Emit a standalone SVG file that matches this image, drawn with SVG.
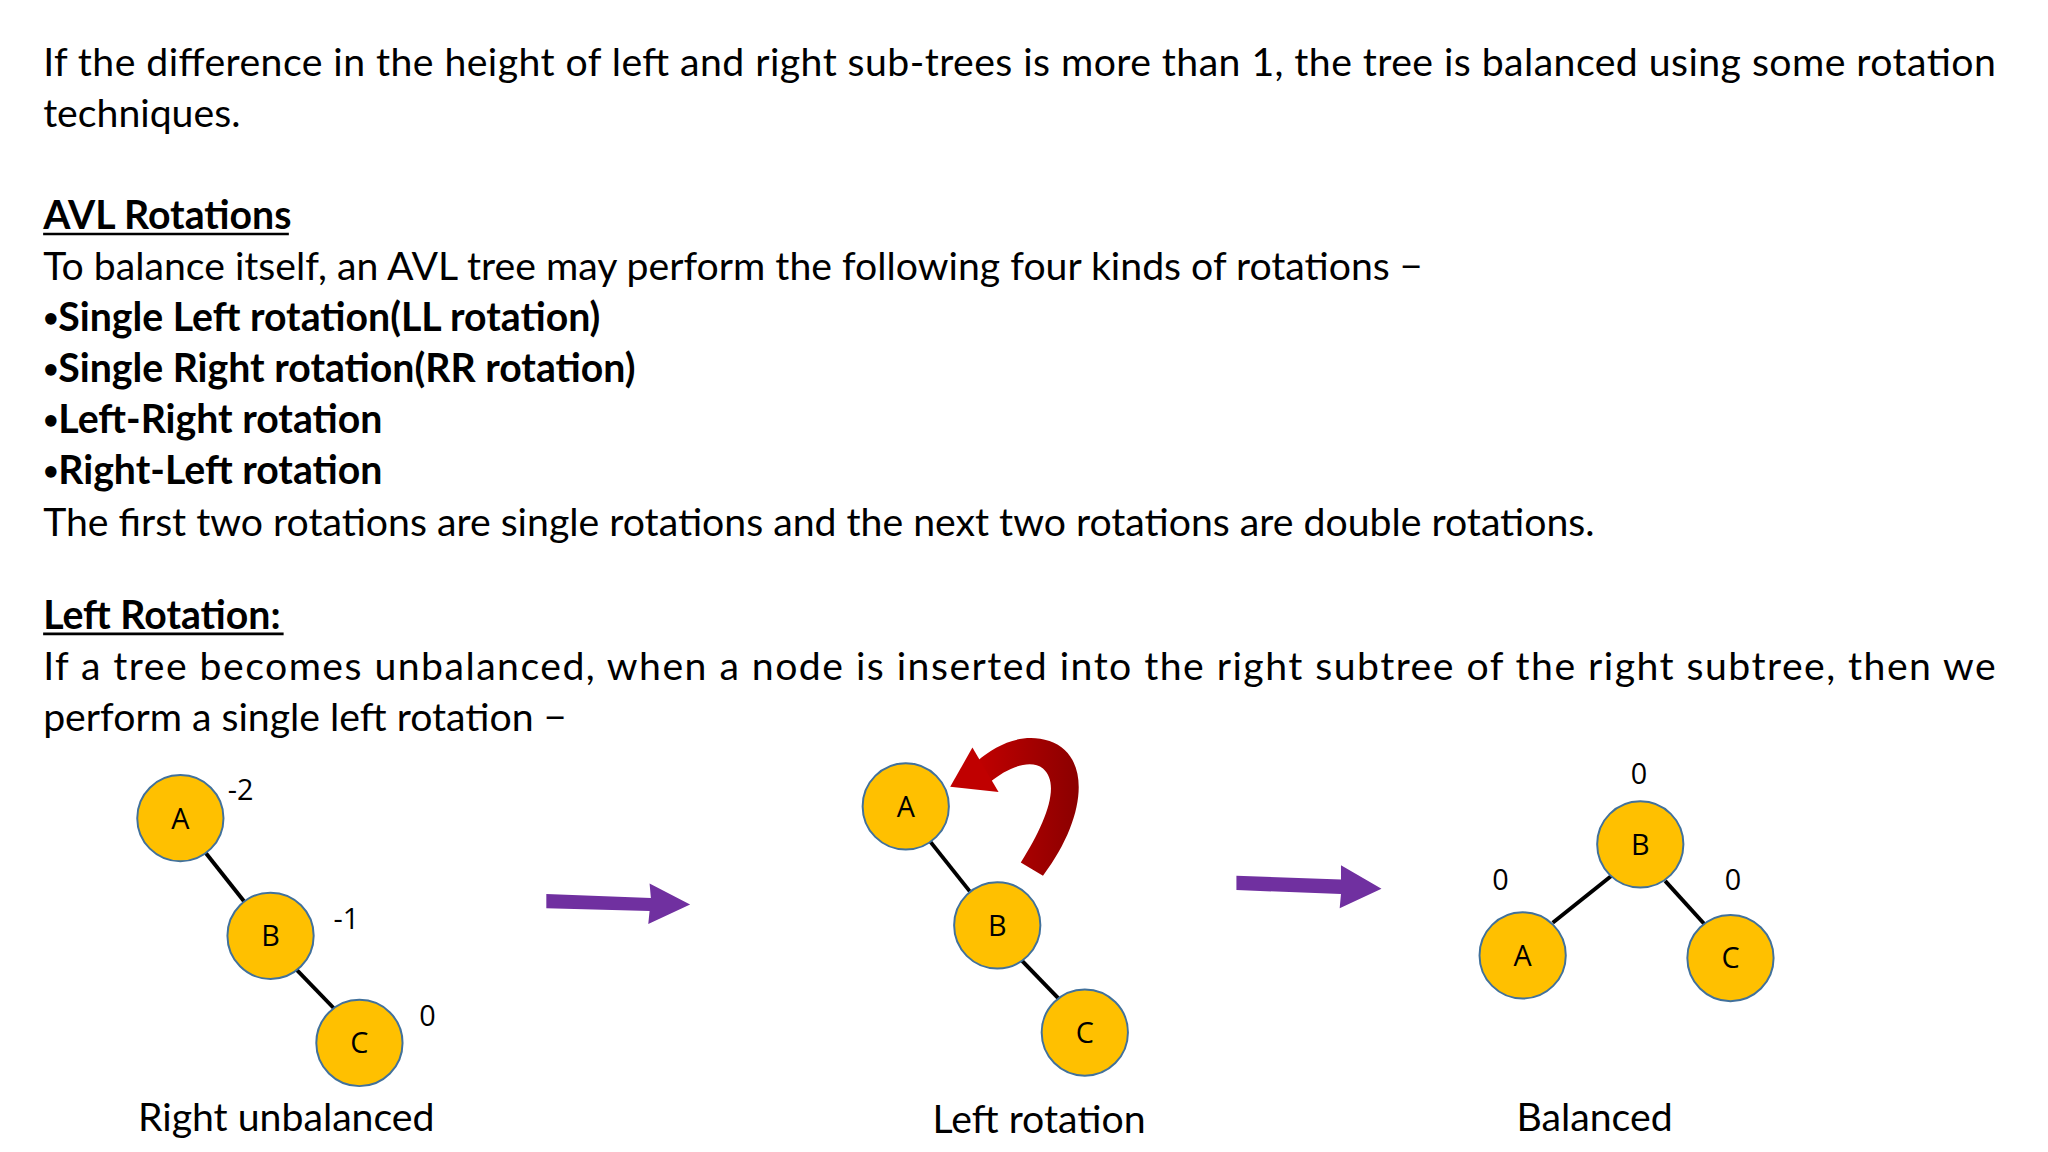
<svg xmlns="http://www.w3.org/2000/svg" width="2048" height="1152" viewBox="0 0 2048 1152">
<defs>
<style>
.t{font-family:Lato,"Open Sans",sans-serif;font-size:30px;fill:#000}
.b{font-weight:bold}
.n{fill:#FFC000;stroke:#41719C;stroke-width:1.5}
.nl{font-family:"Open Sans",sans-serif;font-size:22px;text-anchor:middle;fill:#000}
.e{stroke:#000;stroke-width:3}
.ul{stroke:#000;stroke-width:2}
</style>
<linearGradient id="rg" x1="0" y1="0" x2="1" y2="0"><stop offset="0" stop-color="#C00000"/><stop offset="1" stop-color="#8B0000"/></linearGradient>
</defs>
<rect width="2048" height="1152" fill="#fff"/>
<g transform="scale(1.307)">
<g id="text">
<text class="t" x="33" y="58" textLength="1494" lengthAdjust="spacing">If the difference in the height of left and right sub-trees is more than 1, the tree is balanced using some rotation</text>
<text class="t" x="33" y="97">techniques.</text>
<text class="t b" x="33" y="175">AVL Rotations</text>
<line class="ul" x1="33" y1="179" x2="221" y2="179"/>
<text class="t" x="33" y="214">To balance itself, an AVL tree may perform the following four kinds of rotations −</text>
<text class="t b" x="33" y="253"><tspan font-size="20" dy="-3">•</tspan><tspan dy="3">Single Left rotation(LL rotation)</tspan></text>
<text class="t b" x="33" y="292"><tspan font-size="20" dy="-3">•</tspan><tspan dy="3">Single Right rotation(RR rotation)</tspan></text>
<text class="t b" x="33" y="331"><tspan font-size="20" dy="-3">•</tspan><tspan dy="3">Left-Right rotation</tspan></text>
<text class="t b" x="33" y="370"><tspan font-size="20" dy="-3">•</tspan><tspan dy="3">Right-Left rotation</tspan></text>
<text class="t" x="33" y="410">The first two rotations are single rotations and the next two rotations are double rotations.</text>
<text class="t b" x="33" y="481">Left Rotation:</text>
<line class="ul" x1="33" y1="485" x2="217" y2="485"/>
<text class="t" x="33" y="520" textLength="1494" lengthAdjust="spacing">If a tree becomes unbalanced, when a node is inserted into the right subtree of the right subtree, then we</text>
<text class="t" x="33" y="559">perform a single left rotation −</text>
</g>
<g id="connectors">
<line class="e" x1="157" y1="652" x2="187" y2="690"/>
<line class="e" x1="225" y1="740" x2="256" y2="772"/>
<line class="e" x1="711" y1="643" x2="742" y2="682"/>
<line class="e" x1="780" y1="733" x2="810" y2="764"/>
<line class="e" x1="1233" y1="670" x2="1188" y2="706"/>
<line class="e" x1="1274" y1="674" x2="1304" y2="707"/>
<path d="M418,684 L498,687 L497,676 L528,692 L496,707 L497,697 L418,695 Z" fill="#7030A0"/>
<path d="M946,670 L1026,673 L1026,662 L1057,680 L1025,695 L1026,684 L946,681 Z" fill="#7030A0"/>
<path d="M798,670 C832,625 835,578 803,567 C782,560 762,570 748,582 L758,598 C770,588 788,580 798,588 C812,600 800,630 781,660 Z" fill="url(#rg)"/>
<path d="M727,602 L744,572 L764,606 Z" fill="#C00000"/>
</g>
<g id="t1A"><circle class="n" cx="138" cy="626" r="33"/><text class="nl" x="138" y="634">A</text></g>
<g id="t1B"><circle class="n" cx="207" cy="716" r="33"/><text class="nl" x="207" y="724">B</text></g>
<g id="t1C"><circle class="n" cx="275" cy="798" r="33"/><text class="nl" x="275" y="806">C</text></g>
<g id="t2A"><circle class="n" cx="693" cy="617" r="33"/><text class="nl" x="693" y="625">A</text></g>
<g id="t2B"><circle class="n" cx="763" cy="708" r="33"/><text class="nl" x="763" y="716">B</text></g>
<g id="t2C"><circle class="n" cx="830" cy="790" r="33"/><text class="nl" x="830" y="798">C</text></g>
<g id="t3B"><circle class="n" cx="1255" cy="646" r="33"/><text class="nl" x="1255" y="654">B</text></g>
<g id="t3A"><circle class="n" cx="1165" cy="731" r="33"/><text class="nl" x="1165" y="739">A</text></g>
<g id="t3C"><circle class="n" cx="1324" cy="733" r="33"/><text class="nl" x="1324" y="741">C</text></g>
<g id="labels">
<text class="nl" x="184" y="612" font-size="24">-2</text>
<text class="nl" x="265" y="711" font-size="24">-1</text>
<text class="nl" x="327" y="785" font-size="24">0</text>
<text class="nl" x="1254" y="600" font-size="24">0</text>
<text class="nl" x="1148" y="681" font-size="24">0</text>
<text class="nl" x="1326" y="681" font-size="24">0</text>
<text class="t" x="219" y="865" text-anchor="middle" font-size="26">Right unbalanced</text>
<text class="t" x="795" y="867" text-anchor="middle" font-size="26">Left rotation</text>
<text class="t" x="1220" y="865" text-anchor="middle" font-size="26">Balanced</text>
</g>
</g>
</svg>
